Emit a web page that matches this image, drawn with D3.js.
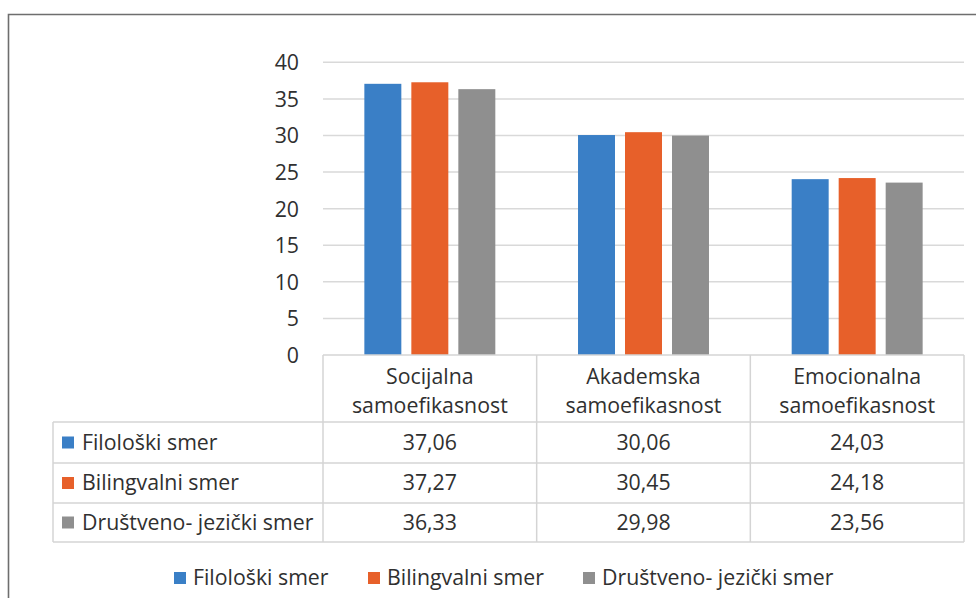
<!DOCTYPE html>
<html><head><meta charset="utf-8">
<script src="https://cdn.jsdelivr.net/npm/d3@7"></script>
<style>
html,body{margin:0;padding:0;background:#fff;}
text{font-family:"Open Sans",sans-serif;fill:#303030;}
</style></head>
<body><svg id="c" width="976" height="598"></svg>
<script>
const categories = [["Socijalna","samoefikasnost"],["Akademska","samoefikasnost"],["Emocionalna","samoefikasnost"]];
const categoryKeys = ["Socijalna samoefikasnost","Akademska samoefikasnost","Emocionalna samoefikasnost"];
const seriesNames = ["Filološki smer","Bilingvalni smer","Društveno- jezički smer"];
const filoloski = [37.06, 30.06, 24.03];
const bilingvalni = [37.27, 30.45, 24.18];
const drustveno = [36.33, 29.98, 23.56];
const yTicks = [0,5,10,15,20,25,30,35,40];
const colors = ["#3a7fc6","#e7602a","#8f8f8f"];
const seriesValues = [filoloski, bilingvalni, drustveno];
const fmt = v => v.toFixed(2).replace(".", ",");

const svg = d3.select("#c");
svg.append("rect").attr("width",976).attr("height",598).attr("fill","#fff");
// outer frame
svg.append("path").attr("d","M8.5,598V14.5H976").attr("fill","none").attr("stroke","#6e6e6e").attr("stroke-width",1.6);

const FS = 21.3;
const y = d3.scaleLinear().domain([0,40]).range([355,62.3]);
const x = d3.scaleBand().domain(categoryKeys).range([323,964]).padding(0);
const xs = d3.scaleBand().domain(seriesNames).range([0,x.bandwidth()]).paddingInner(0.213).paddingOuter(0.88);

// gridlines
svg.append("g").selectAll("line").data(yTicks.filter(t=>t>0)).join("line")
  .attr("x1",323).attr("x2",964).attr("y1",d=>y(d)).attr("y2",d=>y(d))
  .attr("stroke","#d9d9d9").attr("stroke-width",1.5);

// y axis labels
const yAxis = d3.axisLeft(y).tickValues(yTicks).tickSize(0).tickPadding(0).tickFormat(d3.format("d"));
const ya = svg.append("g").attr("transform","translate(299,0)").call(yAxis);
ya.select(".domain").remove();
ya.selectAll("text").attr("font-size",FS).attr("font-family","Open Sans").attr("fill","#303030").attr("dy","0.35em");

// bars
seriesNames.forEach((s,si)=>{
  svg.append("g").selectAll("rect").data(seriesValues[si]).join("rect")
    .attr("x",(d,i)=>x(categoryKeys[i])+xs(s))
    .attr("width",xs.bandwidth())
    .attr("y",d=>y(d)).attr("height",d=>y(0)-y(d))
    .attr("fill",colors[si]);
});

// table
const rowY = [355,422,463,503,542];
const tleft = 53, tcol = 323, tright = 964;
const tg = svg.append("g").attr("stroke","#d4d4d4").attr("stroke-width",1.5);
tg.append("line").attr("x1",tcol).attr("x2",tright).attr("y1",rowY[0]).attr("y2",rowY[0]);
rowY.slice(1).forEach(yy=>tg.append("line").attr("x1",tleft).attr("x2",tright).attr("y1",yy).attr("y2",yy));
tg.append("line").attr("x1",tleft).attr("x2",tleft).attr("y1",rowY[1]).attr("y2",rowY[4]);
[tcol, ...categoryKeys.map(c=>x(c)+x.bandwidth())].forEach(xx=>tg.append("line").attr("x1",xx).attr("x2",xx).attr("y1",rowY[0]).attr("y2",rowY[4]));

// header text
categories.forEach((lines,i)=>{
  const cx = x(categoryKeys[i])+x.bandwidth()/2;
  const t = svg.append("text").attr("text-anchor","middle").attr("font-size",FS);
  t.append("tspan").attr("x",cx).attr("y",384).text(lines[0]);
  t.append("tspan").attr("x",cx).attr("y",413).text(lines[1]);
});

// rows
seriesNames.forEach((s,si)=>{
  const cy = (rowY[si+1]+rowY[si+2])/2;
  svg.append("rect").attr("x",62).attr("y",cy-6).attr("width",12).attr("height",12).attr("fill",colors[si]);
  svg.append("text").attr("x",82).attr("y",cy).attr("dy","0.35em").attr("font-size",FS).text(s);
  seriesValues[si].forEach((v,i)=>{
    svg.append("text").attr("x",x(categoryKeys[i])+x.bandwidth()/2).attr("y",cy).attr("dy","0.35em")
      .attr("text-anchor","middle").attr("font-size",FS).text(fmt(v));
  });
});

// bottom legend
const legX = [174, 368, 583];
seriesNames.forEach((s,si)=>{
  svg.append("rect").attr("x",legX[si]).attr("y",572).attr("width",12).attr("height",12).attr("fill",colors[si]);
  svg.append("text").attr("x",legX[si]+19).attr("y",578).attr("dy","0.35em").attr("font-size",FS).text(s);
});
</script></body></html>
